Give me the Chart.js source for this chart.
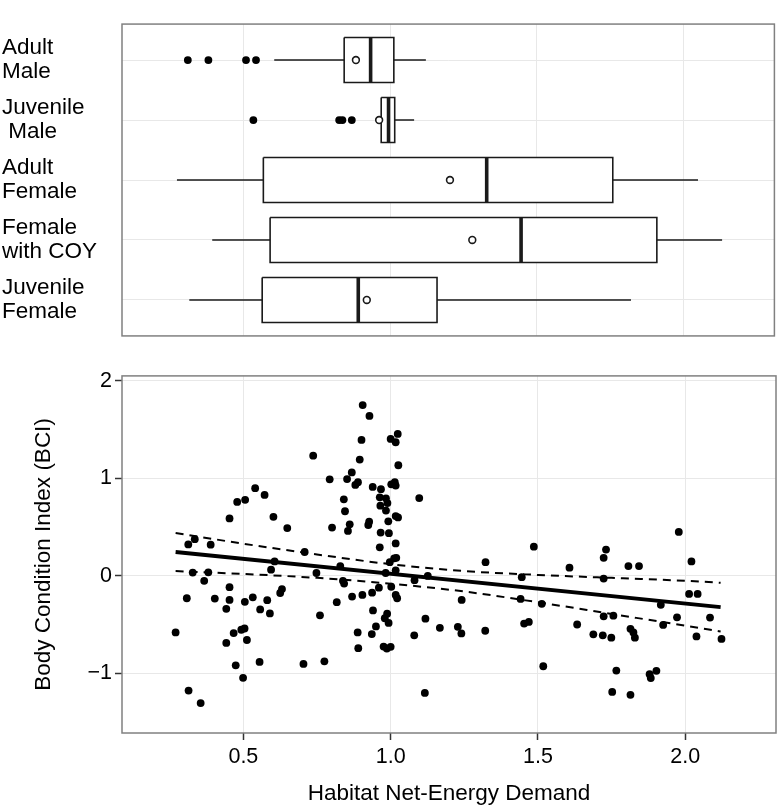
<!DOCTYPE html>
<html>
<head>
<meta charset="utf-8">
<script src="https://cdn.jsdelivr.net/npm/chart.js@4.4.1/dist/chart.umd.min.js"></script>
<style>
  html, body { margin: 0; padding: 0; background: #fff; }
  #wrap { position: relative; width: 780px; height: 809px; }
  #top { position: absolute; left: 0; top: 0; width: 780px; height: 360px; }
  #bottom { position: absolute; left: 0; top: 360px; width: 780px; height: 449px; }
</style>
</head>
<body>
<div id="wrap">
  <div id="top"><canvas id="boxes"></canvas></div>
  <div id="bottom"><canvas id="scatter"></canvas></div>
</div>
<script>
const groupLabels = [
  ['Adult', 'Male'],
  ['Juvenile', ' Male'],
  ['Adult', 'Female'],
  ['Female', 'with COY'],
  ['Juvenile', 'Female']
];
const whiskerLow = [0.606, 0.955, 0.275, 0.395, 0.317];
const q1 = [0.844, 0.970, 0.569, 0.592, 0.565];
const median = [0.934, 0.995, 1.329, 1.446, 0.892];
const q3 = [1.013, 1.016, 1.758, 1.908, 1.160];
const whiskerHigh = [1.122, 1.082, 2.048, 2.130, 1.820];
const groupMeans = [0.884, 0.963, 1.204, 1.280, 0.921];
const outliers = [
  [0.312, 0.382, 0.510, 0.544],
  [0.535, 0.827, 0.838, 0.870],
  [],
  [],
  []
];

const energyDemand = [
  0.540, 0.572, 0.479, 0.506, 0.453, 0.602, 0.649, 0.335, 0.313, 0.389,
  0.606, 0.594, 0.328, 0.381, 0.367, 0.453, 0.631, 0.625, 0.308, 0.403,
  0.453, 0.532, 0.505, 0.581, 0.442, 0.557, 0.590, 0.270, 0.467, 0.493,
  0.504, 0.442, 0.512, 0.474, 0.555, 0.499, 0.314, 0.355,
  0.737, 0.793, 0.801, 0.708, 0.748, 0.829, 0.905, 0.928, 0.901, 0.895,
  1.000, 1.017, 1.024, 1.026, 0.868, 0.852, 0.880, 0.889, 0.939, 0.967,
  1.002, 1.014, 1.017, 0.841, 0.963, 0.984, 0.965, 0.989, 0.845, 0.984,
  0.861, 0.855, 0.927, 0.924, 0.992, 1.017, 1.025, 0.966, 0.994, 1.017,
  0.963, 1.019, 1.012, 0.997, 0.983, 1.017, 0.838, 0.842, 0.960, 1.002,
  0.937, 0.904, 0.869, 1.017, 1.022, 0.817, 0.940, 0.760, 0.988, 0.980,
  0.993, 0.950, 0.888, 0.936, 0.890, 0.976, 0.987, 1.000, 0.704, 0.775,
  1.097, 1.322, 1.486, 1.445, 1.081, 1.126, 1.241, 1.441, 1.513, 1.118,
  1.167, 1.228, 1.240, 1.080, 1.321, 1.453, 1.469, 1.518, 1.116, 1.607,
  1.723, 1.731, 1.723, 1.807, 1.843, 1.978, 2.021, 2.013, 2.042, 1.917,
  1.723, 1.756, 1.633, 1.972, 2.084, 1.925, 1.688, 1.720, 1.749, 1.814,
  1.824, 1.829, 2.038, 2.123, 1.766, 1.879, 1.902, 1.883, 1.752, 1.814
];
const bci = [
  0.899, 0.830, 0.758, 0.780, 0.589, 0.606, 0.490, 0.377, 0.323, 0.320,
  0.148, 0.064, 0.034, 0.037, -0.050, -0.115, -0.135, -0.175, -0.229, -0.232,
  -0.246, -0.219, -0.266, -0.249, -0.337, -0.343, -0.384, -0.579, -0.586, -0.552,
  -0.539, -0.687, -0.657, -0.916, -0.882, -1.044, -1.175, -1.303,
  1.232, 0.990, 0.495, 0.245, 0.030, 0.101, 1.751, 1.640, 1.394, 1.192,
  1.404, 1.370, 1.455, 1.134, 1.061, 0.993, 0.933, 0.960, 0.912, 0.889,
  0.939, 0.960, 0.926, 0.785, 0.805, 0.795, 0.720, 0.747, 0.663, 0.670,
  0.529, 0.461, 0.556, 0.522, 0.559, 0.613, 0.599, 0.444, 0.438, 0.333,
  0.293, 0.185, 0.180, 0.141, 0.030, 0.057, -0.050, -0.078, -0.121, -0.111,
  -0.172, -0.195, -0.212, -0.195, -0.229, -0.269, -0.354, -0.404, -0.387, -0.434,
  -0.482, -0.518, -0.579, -0.596, -0.741, -0.724, -0.744, -0.727, -0.902, -0.875,
  0.798, 0.141, 0.300, -0.013, -0.044, 0.000, -0.246, -0.236, -0.286, -0.438,
  -0.532, -0.522, -0.589, -0.609, -0.562, -0.488, -0.472, -0.926, -1.199, 0.084,
  0.185, 0.270, -0.027, 0.101, 0.101, 0.451, 0.148, -0.185, -0.185, -0.296,
  -0.414, -0.407, -0.498, -0.424, -0.427, -0.502, -0.599, -0.609, -0.633, -0.542,
  -0.579, -0.633, -0.620, -0.646, -0.970, -1.007, -0.973, -1.047, -1.189, -1.219
];

const fitX = [0.27, 2.12];
const fitY = [0.245, -0.320];
const bandX = [0.27, 0.5, 0.75, 1.0, 1.25, 1.5, 1.75, 2.0, 2.12];
const bandUpper = [0.44, 0.33, 0.22, 0.12, 0.05, 0.01, -0.02, -0.05, -0.07];
const bandLower = [0.05, 0.02, -0.02, -0.08, -0.16, -0.27, -0.39, -0.51, -0.57];

const xTicks = [0.5, 1.0, 1.5, 2.0];
const xTickLabels = ['0.5', '1.0', '1.5', '2.0'];
const yTicks = [-1, 0, 1, 2];
const yTickLabels = ['\u22121', '0', '1', '2'];

const ink = '#1a1a1a';
const gridColor = '#e8e8e8';
const font = 'Liberation Sans, Arial, Helvetica, sans-serif';
const xMin = 0.088;
const xMax = 2.308;
const halfBox = 0.375;

const panelBorder = {
  id: 'panelBorder',
  afterDatasetsDraw (chart) {
    const { ctx, chartArea: a } = chart;
    ctx.save();
    ctx.strokeStyle = '#808080';
    ctx.lineWidth = 1.5;
    ctx.strokeRect(a.left, a.top, a.right - a.left, a.bottom - a.top);
    ctx.restore();
  }
};

function segment (points, width, order) {
  return {
    data: points,
    borderColor: ink,
    borderWidth: width,
    pointRadius: 0,
    fill: false,
    order: order
  };
}

const boxDatasets = [];
groupLabels.forEach((g, i) => {
  const y = i + 1;
  boxDatasets.push(segment([{ x: whiskerLow[i], y: y }, { x: q1[i], y: y }], 1.6, 3));
  boxDatasets.push(segment([{ x: q3[i], y: y }, { x: whiskerHigh[i], y: y }], 1.6, 3));
  boxDatasets.push({
    data: [
      { x: q1[i], y: y - halfBox },
      { x: q3[i], y: y - halfBox },
      { x: q3[i], y: y + halfBox },
      { x: q1[i], y: y + halfBox },
      { x: q1[i], y: y - halfBox }
    ],
    borderColor: ink,
    backgroundColor: '#fff',
    borderWidth: 1.6,
    pointRadius: 0,
    fill: 'shape',
    order: 3
  });
  boxDatasets.push(segment([{ x: median[i], y: y - halfBox }, { x: median[i], y: y + halfBox }], 3.6, 2));
});

const outlierPoints = [];
outliers.forEach((list, i) => {
  list.forEach(v => outlierPoints.push({ x: v, y: i + 1 }));
});

boxDatasets.push({
  data: outlierPoints,
  showLine: false,
  pointRadius: 3.9,
  pointBorderWidth: 0,
  pointBackgroundColor: '#000',
  borderColor: '#000',
  order: 1
});
boxDatasets.push({
  data: groupMeans.map((v, i) => ({ x: v, y: i + 1 })),
  showLine: false,
  pointRadius: 3.4,
  pointBorderWidth: 1.6,
  pointBackgroundColor: '#fff',
  pointBorderColor: ink,
  borderColor: ink,
  order: 1
});

new Chart(document.getElementById('boxes'), {
  type: 'line',
  data: { datasets: boxDatasets },
  options: {
    responsive: true,
    maintainAspectRatio: false,
    animation: false,
    layout: { padding: { top: 2, right: 3, bottom: 4, left: 2 } },
    plugins: { legend: { display: false }, tooltip: { enabled: false } },
    scales: {
      x: {
        type: 'linear',
        min: xMin,
        max: xMax,
        afterBuildTicks: s => { s.ticks = xTicks.map(v => ({ value: v })); },
        afterFit: s => { s.height = 0; },
        ticks: { display: false },
        grid: { color: gridColor, drawTicks: false },
        border: { display: false }
      },
      y: {
        type: 'linear',
        reverse: true,
        min: 0.4,
        max: 5.6,
        afterBuildTicks: s => { s.ticks = groupLabels.map((g, i) => ({ value: i + 1 })); },
        afterFit: s => { s.width = 120; },
        ticks: {
          callback: v => groupLabels[v - 1],
          crossAlign: 'far',
          padding: 0,
          color: '#000',
          font: { family: font, size: 22.5, lineHeight: 1.07 }
        },
        grid: { color: gridColor, drawTicks: false },
        border: { display: false }
      }
    }
  },
  plugins: [panelBorder]
});

new Chart(document.getElementById('scatter'), {
  type: 'line',
  data: {
    datasets: [
      {
        data: fitX.map((v, i) => ({ x: v, y: fitY[i] })),
        borderColor: '#000',
        borderWidth: 3.8,
        pointRadius: 0,
        order: 1
      },
      {
        data: bandX.map((v, i) => ({ x: v, y: bandUpper[i] })),
        borderColor: '#000',
        borderWidth: 2,
        borderDash: [8, 6],
        cubicInterpolationMode: 'monotone',
        pointRadius: 0,
        order: 1
      },
      {
        data: bandX.map((v, i) => ({ x: v, y: bandLower[i] })),
        borderColor: '#000',
        borderWidth: 2,
        borderDash: [8, 6],
        cubicInterpolationMode: 'monotone',
        pointRadius: 0,
        order: 1
      },
      {
        data: energyDemand.map((v, i) => ({ x: v, y: bci[i] })),
        showLine: false,
        pointRadius: 3.9,
        pointBorderWidth: 0,
        pointBackgroundColor: '#000',
        borderColor: '#000',
        order: 2
      }
    ]
  },
  options: {
    responsive: true,
    maintainAspectRatio: false,
    animation: false,
    layout: { padding: { top: 11, right: 3, bottom: 0, left: 0 } },
    plugins: { legend: { display: false }, tooltip: { enabled: false } },
    scales: {
      x: {
        type: 'linear',
        min: xMin,
        max: xMax,
        afterBuildTicks: s => { s.ticks = xTicks.map(v => ({ value: v })); },
        afterFit: s => { s.height = 76; },
        ticks: {
          callback: (v, i) => xTickLabels[i],
          padding: 4,
          color: '#000',
          maxRotation: 0,
          font: { family: font, size: 21.5 }
        },
        grid: { color: gridColor, tickColor: '#333', tickLength: 7, tickWidth: 1.5 },
        border: { display: false },
        title: {
          display: true,
          text: 'Habitat Net-Energy Demand',
          color: '#000',
          padding: { top: 0, bottom: 1.5 },
          font: { family: font, size: 22.5 }
        }
      },
      y: {
        type: 'linear',
        min: -1.61,
        max: 2.05,
        afterBuildTicks: s => { s.ticks = yTicks.map(v => ({ value: v })); },
        afterFit: s => { s.width = 122; },
        ticks: {
          callback: (v, i) => yTickLabels[i],
          padding: 3,
          color: '#000',
          font: { family: font, size: 21.5 }
        },
        grid: { color: gridColor, tickColor: '#333', tickLength: 7, tickWidth: 1.5 },
        border: { display: false },
        title: {
          display: true,
          text: 'Body Condition Index (BCI)',
          color: '#000',
          padding: { top: 30.5, bottom: 0 },
          font: { family: font, size: 22.5 }
        }
      }
    }
  },
  plugins: [panelBorder]
});
</script>
</body>
</html>
